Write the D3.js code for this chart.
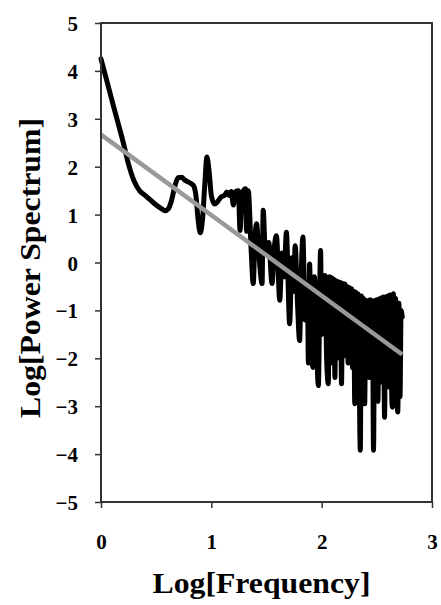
<!DOCTYPE html>
<html>
<head>
<meta charset="utf-8">
<script src="https://cdn.jsdelivr.net/npm/d3@7"></script>
<style>
  body { margin: 0; background: #fff; }
  .tick text { font-family: "Liberation Serif", "Times New Roman", serif; font-weight: bold; font-size: 21px; fill: #000; }
  .tick line { stroke: #333; stroke-width: 1.5; }
  .title { font-family: "Liberation Serif", "Times New Roman", serif; font-weight: bold; font-size: 30px; fill: #000; }
</style>
</head>
<body>
<div class="chart"></div>
<script>
// log frequency (x) and log power (y)
const freqLog = [
  0, 0.05, 0.10, 0.15, 0.20, 0.25, 0.30, 0.35, 0.40, 0.45, 0.50, 0.55, 0.58, 0.61, 0.64, 0.67, 0.70, 0.73, 0.76, 0.80,
  0.84, 0.86, 0.88, 0.90, 0.92, 0.94, 0.96, 0.98, 1.00, 1.03, 1.06, 1.09, 1.12, 1.14, 1.16, 1.18, 1.20, 1.22,
  1.245, 1.26, 1.28, 1.31, 1.32, 1.335, 1.36, 1.38, 1.395, 1.41, 1.43, 1.46, 1.47, 1.49, 1.52, 1.55, 1.57, 1.59,
  1.62, 1.64, 1.66, 1.68, 1.71, 1.73, 1.745, 1.76, 1.78, 1.80, 1.815, 1.83, 1.85, 1.87, 1.88, 1.89, 1.905, 1.92,
  1.935, 1.95, 1.97, 1.99, 2.00, 2.015, 2.03, 2.045, 2.06, 2.07,
  2.08, 2.09, 2.10, 2.11, 2.12, 2.13, 2.14, 2.15, 2.16, 2.17, 2.18, 2.19, 2.20, 2.21, 2.22, 2.23, 2.24, 2.25,
  2.26, 2.27, 2.28, 2.29, 2.30, 2.31, 2.32, 2.33, 2.34, 2.35, 2.36, 2.37, 2.38, 2.39, 2.40, 2.41, 2.42, 2.43,
  2.44, 2.45, 2.46, 2.47, 2.48, 2.49, 2.50, 2.51, 2.52, 2.53, 2.54, 2.55, 2.56, 2.57, 2.58, 2.59, 2.60, 2.61,
  2.62, 2.63, 2.64, 2.65, 2.66, 2.67, 2.68, 2.69, 2.70, 2.71, 2.72, 2.73
];
const powerLog = [
  4.25, 3.82, 3.38, 2.95, 2.52, 2.05, 1.7, 1.5, 1.4, 1.3, 1.2, 1.12, 1.08, 1.12, 1.3, 1.6, 1.77, 1.78, 1.72, 1.67,
  1.6, 1.4, 0.9, 0.62, 0.9, 1.6, 2.2, 1.9, 1.4, 1.22, 1.28, 1.37, 1.40, 1.47, 1.40, 1.48, 1.2, 1.48,
  1.50, 0.67, 1.45, 1.54, 0.65, 1.50, 0.3, -0.44, 0.5, 0.81, 0.2, -0.44, 1.09, 0.2, 0.42, -0.44, 0.3, 0.56,
  -0.79, 0.2, -0.3, 0.63, -1.28, 0.1, -0.6, 0.35, -0.8, -1.63, -0.2, 0.53, -1.2, -0.4, -2.1, -0.03, -1.5, -2.19,
  -0.3, -1.4, -2.57, 0.25, -1.5, -0.5, -0.27, -2.0, -2.53, -0.3,
  -1.9, -0.32, -2.1, -0.35, -2.4, -0.38, -1.7, -0.4, -2.0, -0.42, -2.53, -0.44, -1.8, -0.45, -1.95, -0.5, -2.1, -0.52,
  -1.75, -0.55, -2.2, -0.6, -2.95, -0.62, -1.9, -0.66, -2.3, -3.92, -0.7, -2.2, -0.75, -2.95, -0.79, -2.0, -0.8, -2.4,
  -0.78, -2.1, -0.8, -3.92, -0.8, -2.3, -0.78, -2.9, -0.76, -2.2, -0.74, -2.5, -0.72, -3.23, -0.72, -2.4, -0.7, -2.6,
  -0.68, -2.2, -3.02, -0.65, -2.5, -0.75, -2.7, -3.12, -0.85, -2.8, -1.0, -1.14
];
// fitted regression line
const fitX = [0, 2.73];
const fitY = [2.67, -1.92];

const xTicks = [0, 1, 2, 3];
const yTicks = [-5, -4, -3, -2, -1, 0, 1, 2, 3, 4, 5];

const margin = { top: 23, right: 9, bottom: 103, left: 101 },
  width = 441 - margin.left - margin.right,
  height = 605 - margin.top - margin.bottom;

const x = d3.scaleLinear().domain([0, 3]).range([0, width]);
const y = d3.scaleLinear().domain([-5, 5]).range([height, 0]);

const svg = d3.select('.chart').append('svg')
  .attr('width', 441)
  .attr('height', 605);

const g = svg.append('g')
  .attr('transform', `translate(${margin.left},${margin.top})`);

// axes
const yAxis = g.append('g')
  .call(d3.axisLeft(y).tickValues(yTicks).tickSize(6).tickPadding(17).tickFormat(d3.format('d')));
yAxis.select('.domain').remove();
yAxis.selectAll('text').attr('dy', '0.36em');

const xAxis = g.append('g')
  .attr('transform', `translate(0,${height})`)
  .call(d3.axisBottom(x).tickValues(xTicks).tickSize(6).tickPadding(26).tickFormat(d3.format('d')));
xAxis.select('.domain').remove();

// spectrum line
const pts = freqLog.map((f, i) => [f, powerLog[i]]);
const line = d3.line()
  .x(d => x(d[0]))
  .y(d => y(d[1]))
  .curve(d3.curveMonotoneX);

g.append('path')
  .datum(pts)
  .attr('fill', 'none')
  .attr('stroke', '#000')
  .attr('stroke-width', 5)
  .attr('stroke-linejoin', 'round')
  .attr('stroke-linecap', 'round')
  .attr('d', line);

// regression line
g.append('path')
  .datum(fitX.map((f, i) => [f, fitY[i]]))
  .attr('fill', 'none')
  .attr('stroke', '#999')
  .attr('stroke-width', 4.5)
  .attr('d', d3.line().x(d => x(d[0])).y(d => y(d[1])));

// frame
g.append('rect')
  .attr('width', width)
  .attr('height', height)
  .attr('fill', 'none')
  .attr('stroke', '#333')
  .attr('stroke-width', 2);

// titles
svg.append('text')
  .attr('class', 'title')
  .attr('x', margin.left + width / 2 - 5)
  .attr('y', 593)
  .attr('text-anchor', 'middle')
  .attr('textLength', 218)
  .attr('lengthAdjust', 'spacingAndGlyphs')
  .text('Log[Frequency]');

svg.append('text')
  .attr('class', 'title')
  .attr('transform', 'translate(40,268) rotate(-90)')
  .attr('text-anchor', 'middle')
  .attr('textLength', 300)
  .attr('lengthAdjust', 'spacingAndGlyphs')
  .text('Log[Power Spectrum]');
</script>
</body>
</html>
